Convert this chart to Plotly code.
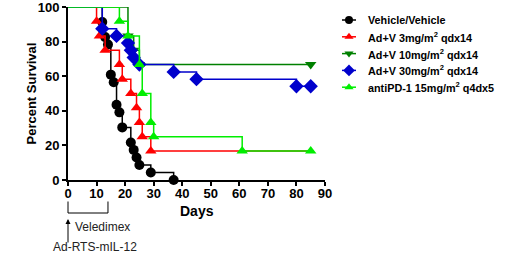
import plotly.graph_objects as go

# ---- data (days, percent survival) ----
veh_days = [0, 12, 13, 14, 15, 16, 17, 18, 19, 22, 23, 24, 25, 29, 37]
veh_pct = [100, 91.3, 82.6, 78.3, 60.9, 56.5, 43.5, 39.1, 30.4, 21.7, 17.4, 13.0, 8.7, 4.3, 0]

ad3_days = [0, 10, 11, 13, 18, 19, 22, 24, 25, 26, 29, 85]
ad3_pct = [100, 91.7, 83.3, 75.0, 66.7, 58.3, 50.0, 41.7, 33.3, 25.0, 16.7, 16.7]

ad10_days = [0, 21, 23, 25, 85]
ad10_pct = [100, 83.3, 75.0, 66.7, 66.7]

ad30_days = [0, 12, 17, 21, 22, 23, 25, 37, 45, 80, 85]
ad30_pct = [100, 87.5, 83.3, 79.2, 75.0, 70.8, 66.7, 62.5, 58.3, 54.2, 54.2]

pd1_days = [0, 18, 21, 25, 26, 29, 30, 61, 85]
pd1_pct = [100, 91.7, 83.3, 66.7, 50.0, 33.3, 25.0, 16.7, 16.7]

series_names = ["Vehicle/Vehicle", "Ad+V 3mg/m<sup>2</sup> qdx14", "Ad+V 10mg/m<sup>2</sup> qdx14",
                "Ad+V 30mg/m<sup>2</sup> qdx14", "antiPD-1 15mg/m<sup>2</sup> q4dx5"]
x_ticks = list(range(0, 91, 10))
y_ticks = list(range(0, 101, 20))
bracket_days = [0, 14]
arrow_day = 0

# styles
styles = [
    ("#000000", "circle", 10, True),
    ("#FF0000", "triangle-up", 10, False),
    ("#008000", "triangle-down", 10, True),
    ("#0000CC", "diamond", 11, True),
    ("#00EE00", "triangle-up", 10, True),
]
data = [(veh_days, veh_pct), (ad3_days, ad3_pct), (ad10_days, ad10_pct),
        (ad30_days, ad30_pct), (pd1_days, pd1_pct)]

W, H = 508, 255
L, R, T, B = 68, 2, 7, 75
PW = W - L - R            # plot-area width
PLOT_RIGHT = 325          # pixel where day 90 lies
FONT = "Liberation Sans, Arial, sans-serif"

fig = go.Figure()
for (d, p), (col, sym, sz, mark_last) in zip(data, styles):
    fig.add_trace(go.Scatter(x=d, y=p, mode="lines", line=dict(color=col, width=1.5, shape="hv"),
                             showlegend=False, hoverinfo="skip", cliponaxis=False))
    md = d[1:] if mark_last else d[1:-1]
    mp = p[1:] if mark_last else p[1:-1]
    fig.add_trace(go.Scatter(x=md, y=mp, mode="markers",
                             marker=dict(symbol=sym, size=sz, color=col),
                             showlegend=False, cliponaxis=False))

# custom legend drawn on an auxiliary pixel-unit axis pair
LEG_X0, LEG_X1 = 330, W - R
leg_row_y = [20 + 16.8 * i for i in range(len(series_names))]
for i, (name, (col, sym, sz, _)) in enumerate(zip(series_names, styles)):
    yy = leg_row_y[i]
    fig.add_trace(go.Scatter(x=[342, 349, 356], y=[yy, yy, yy], xaxis="x2", yaxis="y2",
                             mode="lines", line=dict(color=col, width=1.5),
                             showlegend=False, hoverinfo="skip", cliponaxis=False))
    fig.add_trace(go.Scatter(x=[349], y=[yy], xaxis="x2", yaxis="y2", mode="markers",
                             marker=dict(symbol=sym, size=sz - 2, color=col),
                             showlegend=False, hoverinfo="skip", cliponaxis=False))
    fig.add_annotation(x=366, y=yy, xref="x2", yref="y2", text="<b>" + name + "</b>",
                       showarrow=False, xanchor="left", yanchor="middle",
                       font=dict(size=10.8, family=FONT, color="#000000"))

fig.update_layout(
    width=W, height=H,
    margin=dict(l=L, r=R, t=T, b=B, autoexpand=False),
    paper_bgcolor="white", plot_bgcolor="white",
    font=dict(family=FONT, color="#000000"),
    showlegend=False,
    xaxis=dict(domain=[0, (PLOT_RIGHT - L) / PW], range=[0, 90], tickmode="array", tickvals=x_ticks,
               automargin=False, ticklabeloverflow="allow", ticklabelstandoff=-4,
               showgrid=False, zeroline=False, showline=True, linecolor="#000000", linewidth=2,
               ticks="outside", ticklen=4, tickwidth=2, tickcolor="#000000",
               tickfont=dict(size=13, family=FONT, weight="bold")),
    yaxis=dict(range=[0, 100], tickmode="array", tickvals=y_ticks,
               automargin=False, ticklabeloverflow="allow",
               showgrid=False, zeroline=False, showline=True, linecolor="#000000", linewidth=2,
               ticks="outside", ticklen=4, tickwidth=2, tickcolor="#000000",
               tickfont=dict(size=13, family=FONT, weight="bold")),
    xaxis2=dict(domain=[(LEG_X0 - L) / PW, 1], range=[LEG_X0, LEG_X1], visible=False,
                anchor="y2", fixedrange=True),
    yaxis2=dict(domain=[0, 1], range=[H - B, T], visible=False, anchor="x2", fixedrange=True),
)

def py(pix):
    return (H - B - pix) / (H - B - T)

def pxp(pix):
    return (pix - L) / PW

def px(day):
    return day / 90.0 * (PLOT_RIGHT - L) / PW

# axis titles
fig.add_annotation(x=pxp(197.4), y=py(210.7), xref="paper", yref="paper", text="<b>Days</b>",
                   showarrow=False, xanchor="center", yanchor="middle",
                   font=dict(size=14, family=FONT, color="#000000"))
fig.add_annotation(x=pxp(31), y=py(93.5), xref="paper", yref="paper", text="<b>Percent Survival</b>",
                   showarrow=False, xanchor="center", yanchor="middle", textangle=-90,
                   font=dict(size=13, family=FONT, color="#000000"))

bx0, bx1 = px(bracket_days[0]), px(bracket_days[1])
for sh in [
    dict(x0=bx0, x1=bx1, y0=py(213), y1=py(213)),
    dict(x0=bx0, x1=bx0, y0=py(213), y1=py(201.5)),
    dict(x0=bx1, x1=bx1, y0=py(213), y1=py(201.5)),
]:
    fig.add_shape(type="line", xref="paper", yref="paper", line=dict(color="#000000", width=1), **sh)

fig.add_annotation(x=px(arrow_day), y=py(219), xref="paper", yref="paper", text="",
                   showarrow=True, ax=0, ay=25, arrowhead=2, arrowsize=1, arrowwidth=1, arrowcolor="#000000")
fig.add_annotation(x=pxp(72.5), y=py(226.7), xref="paper", yref="paper", text="Veledimex",
                   showarrow=False, xanchor="left", yanchor="middle",
                   font=dict(size=12, family=FONT, color="#222222"))
fig.add_annotation(x=pxp(94.7), y=py(246.7), xref="paper", yref="paper", text="Ad-RTS-mIL-12",
                   showarrow=False, xanchor="center", yanchor="middle",
                   font=dict(size=12, family=FONT, color="#222222"))

fig.write_html("out.html", config={"displayModeBar": False},
               post_script="document.body.style.margin='0';document.body.style.overflow='hidden';")
